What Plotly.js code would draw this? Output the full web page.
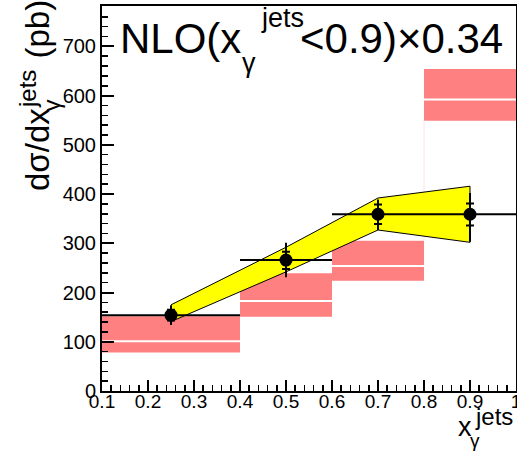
<!DOCTYPE html>
<html><head><meta charset="utf-8">
<script src="https://cdn.plot.ly/plotly-3.0.1.min.js"></script>
<style>html,body{margin:0;padding:0;background:#fff}</style>
</head><body><div id="chart" style="width:517px;height:457px"></div>
<script>
// ---- data ----
const binLow  = [0.1, 0.4, 0.6, 0.8];
const binHigh = [0.4, 0.6, 0.8, 1.0];
const dataX   = [0.25, 0.5, 0.7, 0.9];
const dataY   = [154, 266, 359, 359];
const totErrUp = [20, 35, 30, 43];
const totErrDn = [20, 35, 32, 56];
const statErrUp = [11, 17, 20, 22];
const statErrDn = [11, 18, 20, 23];
const bandX  = [0.25, 0.5, 0.7, 0.9];
const bandUp = [175, 292, 392, 416];
const bandDn = [141, 242, 327, 302];
const nloLow     = [78, 151, 224, 549];
const nloHigh    = [152, 239, 305, 654];
const nloCentral = [101, 183, 254, 592];
const xTickVals = [0.1, 0.2, 0.3, 0.4, 0.5, 0.6, 0.7, 0.8, 0.9, 1.0];
const xTickText = ['0.1','0.2','0.3','0.4','0.5','0.6','0.7','0.8','0.9','1'];
const yTickVals = [0, 100, 200, 300, 400, 500, 600, 700];
const yTickText = ['0','100','200','300','400','500','600','700'];

// ---- geometry helpers (pixel -> paper) ----
const L = 102, R = 516, T = 6, B = 391;
const px = x => (x - L) / (R - L);
const py = y => (B - y) / (B - T);
const FONT = 'Liberation Sans, Arial, sans-serif';

const binCenter = binLow.map((lo, i) => (lo + binHigh[i]) / 2);
const binWidth  = binLow.map((lo, i) => binHigh[i] - lo);
const binHalf   = binWidth.map(w => w / 2);

const whiteX = [], whiteY = [];
binLow.forEach((lo, i) => { whiteX.push(lo, binHigh[i], null); whiteY.push(nloCentral[i], nloCentral[i], null); });

const traces = [
  { type: 'bar', x: binCenter, width: binWidth, base: nloLow,
    y: nloHigh.map((h, i) => h - nloLow[i]),
    marker: { color: '#ff8080', line: { width: 0 } }, hoverinfo: 'skip' },
  { type: 'scatter', mode: 'lines', x: whiteX, y: whiteY,
    line: { color: '#ffffff', width: 2 }, hoverinfo: 'skip' },
  { type: 'scatter', mode: 'lines', x: [binLow[3], binLow[3]], y: [nloHigh[2], nloLow[3]],
    line: { color: '#ffe0e6', width: 1 }, hoverinfo: 'skip' },
  { type: 'scatter', mode: 'lines',
    x: bandX.concat(bandX.slice().reverse()),
    y: bandUp.concat(bandDn.slice().reverse()),
    fill: 'toself', fillcolor: '#ffff00', line: { color: '#000', width: 1 } },
  { type: 'scatter', mode: 'markers', x: dataX, y: dataY,
    marker: { size: 1, color: 'rgba(0,0,0,0)' },
    error_x: { type: 'data', array: binHalf, symmetric: true, width: 0, thickness: 2, color: '#000' },
    error_y: { type: 'data', array: totErrUp, arrayminus: totErrDn, symmetric: false, width: 0, thickness: 2, color: '#000' } },
  { type: 'scatter', mode: 'markers', x: dataX, y: dataY,
    marker: { size: 13, color: '#000' },
    error_y: { type: 'data', array: statErrUp, arrayminus: statErrDn, symmetric: false, width: 4, thickness: 2, color: '#000' } }
];

function ann(text, x, y, size, opts) {
  return Object.assign({ text: text, xref: 'paper', yref: 'paper', x: px(x), y: py(y),
    xanchor: 'left', yanchor: 'top', showarrow: false, borderpad: 0, borderwidth: 0,
    font: { family: FONT, size: size, color: '#000' } }, opts || {});
}

const annotations = [
  ann('NLO(x', 119.5, 15.5, 42),
  ann('jets', 261, 3, 27),
  ann('γ', 241.5, 48.5, 27),
  ann('&lt;0.9)×0.34', 300, 15.5, 42),
  ann('dσ/dx', 37, 150, 33, { xanchor: 'center', yanchor: 'middle', textangle: -90 }),
  ann('(pb)', 37, 29.5, 33, { xanchor: 'center', yanchor: 'middle', textangle: -90 }),
  ann('jets', 27.5, 89.5, 24, { xanchor: 'center', yanchor: 'middle', textangle: -90 }),
  ann('γ', 51.5, 106, 24, { xanchor: 'center', yanchor: 'middle', textangle: -90 }),
  ann('x', 458, 411.5, 27),
  ann('jets', 475, 403.3, 24),
  ann('γ', 469.5, 430, 19)
];

const layout = {
  width: 517, height: 457,
  margin: { l: L, r: 517 - R, t: T, b: 457 - B },
  paper_bgcolor: '#fff', plot_bgcolor: '#fff',
  showlegend: false,
  font: { family: FONT, color: '#000' },
  xaxis: {
    range: [0.1, 1.0], tickmode: 'array', tickvals: xTickVals, ticktext: xTickText,
    ticks: 'inside', ticklen: 11, tickwidth: 2, tickcolor: '#000',
    minor: { tickmode: 'linear', tick0: 0.1, dtick: 0.02, ticks: 'inside', ticklen: 6, tickwidth: 1.5, tickcolor: '#000', showgrid: false },
    showline: true, linewidth: 2, linecolor: '#000', mirror: true,
    showgrid: false, zeroline: false, ticklabeloverflow: 'allow', ticklabelstandoff: -8,
    tickfont: { family: FONT, size: 19, color: '#000' }
  },
  yaxis: {
    range: [0, 782], tickmode: 'array', tickvals: yTickVals, ticktext: yTickText,
    ticks: 'inside', ticklen: 12, tickwidth: 2, tickcolor: '#000',
    minor: { tickmode: 'linear', tick0: 0, dtick: 20, ticks: 'inside', ticklen: 6, tickwidth: 1.5, tickcolor: '#000', showgrid: false },
    showline: true, linewidth: 2, linecolor: '#000', mirror: true,
    showgrid: false, zeroline: false, ticklabeloverflow: 'allow',
    tickfont: { family: FONT, size: 20, color: '#000' }
  },
  annotations: annotations
};

Plotly.newPlot('chart', traces, layout, { staticPlot: true, displayModeBar: false });
</script></body></html>
